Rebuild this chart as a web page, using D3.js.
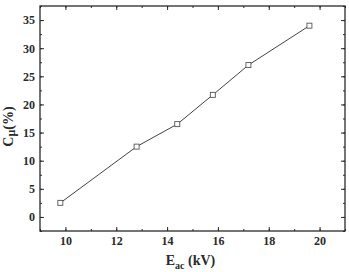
<!DOCTYPE html>
<html><head><meta charset="utf-8">
<script src="https://cdn.jsdelivr.net/npm/d3@7"></script>
<style>body{margin:0;background:#fff}svg{display:block}</style>
</head><body>
<script>
const eac = [9.8, 12.8, 14.4, 15.8, 17.2, 19.6];
const cmu = [2.5, 12.5, 16.5, 21.7, 27.0, 34.0];
const xTicks = [10, 12, 14, 16, 18, 20];
const yTicks = [0, 5, 10, 15, 20, 25, 30, 35];

const W = 349, H = 272;
const m = {l: 40, r: 4, t: 6, b: 41};
const svg = d3.select("body").append("svg").attr("width", W).attr("height", H);
const x = d3.scaleLinear().domain([9, 21]).range([m.l, W - m.r]);
const y = d3.scaleLinear().domain([-2.5, 37.5]).range([H - m.b, m.t]);
const font = "'Liberation Serif', 'Times New Roman', serif";
const ink = "#2a2a2a";

function styleAxis(g, labels) {
  g.select(".domain").remove();
  g.selectAll("line").attr("stroke", ink).attr("stroke-width", 1);
  g.selectAll("text").attr("font-family", font).attr("font-weight", "bold")
    .attr("font-size", 12).attr("fill", ink);
  if (!labels) g.selectAll("text").remove();
}
const xMinor = d3.range(9, 21.01, 1);
const yMinor = d3.range(-2.5, 37.51, 2.5);
// bottom
svg.append("g").attr("transform", `translate(0,${H - m.b})`)
  .call(d3.axisBottom(x).tickValues(xMinor).tickSize(-2).tickFormat(""))
  .call(g => styleAxis(g, false));
svg.append("g").attr("transform", `translate(0,${H - m.b})`)
  .call(d3.axisBottom(x).tickValues(xTicks).tickSize(-4).tickPadding(5).tickFormat(d3.format("d")))
  .call(g => styleAxis(g, true));
// top
svg.append("g").attr("transform", `translate(0,${m.t})`)
  .call(d3.axisTop(x).tickValues(xMinor).tickSize(-2).tickFormat(""))
  .call(g => styleAxis(g, false));
svg.append("g").attr("transform", `translate(0,${m.t})`)
  .call(d3.axisTop(x).tickValues(xTicks).tickSize(-4).tickFormat(""))
  .call(g => styleAxis(g, false));
// left
svg.append("g").attr("transform", `translate(${m.l},0)`)
  .call(d3.axisLeft(y).tickValues(yMinor).tickSize(-2).tickFormat(""))
  .call(g => styleAxis(g, false));
svg.append("g").attr("transform", `translate(${m.l},0)`)
  .call(d3.axisLeft(y).tickValues(yTicks).tickSize(-4).tickPadding(5).tickFormat(d3.format("d")))
  .call(g => styleAxis(g, true));
// right
svg.append("g").attr("transform", `translate(${W - m.r},0)`)
  .call(d3.axisRight(y).tickValues(yMinor).tickSize(-2).tickFormat(""))
  .call(g => styleAxis(g, false));
svg.append("g").attr("transform", `translate(${W - m.r},0)`)
  .call(d3.axisRight(y).tickValues(yTicks).tickSize(-4).tickFormat(""))
  .call(g => styleAxis(g, false));

// frame
svg.append("rect").attr("x", m.l).attr("y", m.t)
  .attr("width", W - m.r - m.l).attr("height", H - m.b - m.t)
  .attr("fill", "none").attr("stroke", ink).attr("stroke-width", 1.3);

const pts = eac.map((v, i) => [v, cmu[i]]);
svg.append("path").datum(pts)
  .attr("d", d3.line().x(d => x(d[0])).y(d => y(d[1])))
  .attr("fill", "none").attr("stroke", "#444").attr("stroke-width", 1);
svg.selectAll("rect.mk").data(pts).enter().append("rect").attr("class", "mk")
  .attr("x", d => x(d[0]) - 2.5).attr("y", d => y(d[1]) - 2.5)
  .attr("width", 5).attr("height", 5)
  .attr("fill", "#fff").attr("stroke", "#555").attr("stroke-width", 0.9);

// axis titles
const xt = svg.append("text").attr("x", (m.l + W - m.r) / 2 - 2).attr("y", 265)
  .attr("text-anchor", "middle").attr("font-family", font).attr("font-weight", "bold")
  .attr("font-size", 14).attr("fill", ink);
xt.append("tspan").text("E");
xt.append("tspan").attr("dy", 4).attr("font-size", 10).text("ac");
xt.append("tspan").attr("dy", -4).text(" (kV)");

const yt = svg.append("text").attr("transform", `translate(13,${(m.t + H - m.b) / 2 + 8}) rotate(-90)`)
  .attr("text-anchor", "middle").attr("font-family", font).attr("font-weight", "bold")
  .attr("font-size", 14).attr("fill", ink);
yt.append("tspan").text("C");
yt.append("tspan").attr("dy", 2).attr("font-size", 12).text("μ");
yt.append("tspan").attr("dy", -2).text("(%)");
</script>
</body></html>
